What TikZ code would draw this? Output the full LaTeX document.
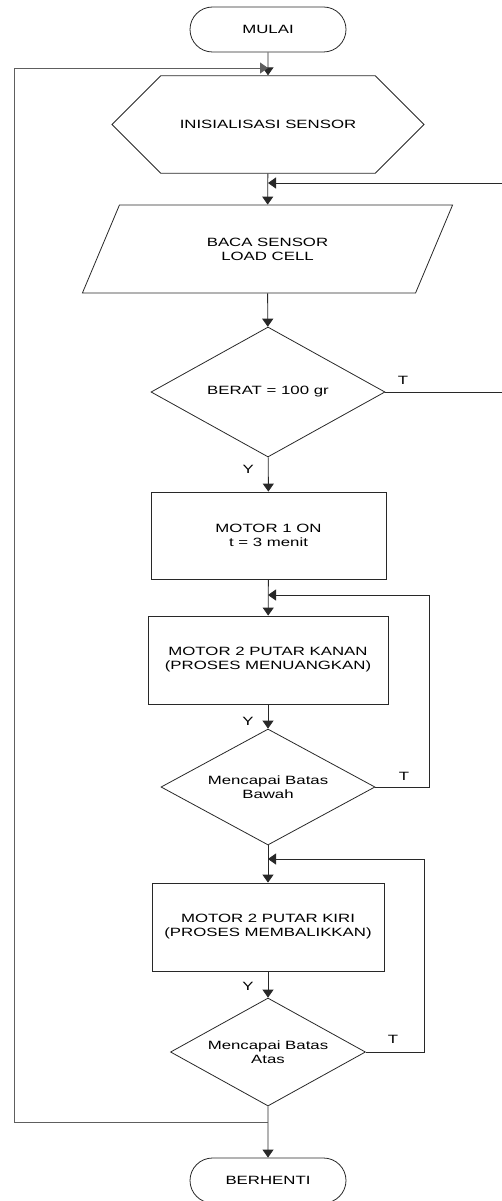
\documentclass[tikz,border=0pt]{standalone}
\usepackage{fontspec}
\setmainfont{Liberation Sans}[FakeStretch=1.4]
\usepackage{tikz}
\usetikzlibrary{shapes.geometric, shapes.misc, arrows.meta, positioning, calc}
\definecolor{flowline}{RGB}{40, 40, 40}

\begin{document}
\begin{tikzpicture}[x=1pt, y=-1pt,
  font=\fontsize{12}{14}\selectfont,
  base/.style={draw=flowline, line width=0.8pt, inner sep=0pt, align=center},
  terminal/.style={base, rounded rectangle, minimum width=156pt, minimum height=45pt},
  prep/.style={base, chamfered rectangle, chamfered rectangle xsep=30pt, chamfered rectangle ysep=44.5pt, minimum width=312pt, minimum height=89pt},
  io/.style={base, trapezium, trapezium left angle=56, trapezium right angle=124, trapezium stretches=true, minimum width=371pt, minimum height=88pt},
  process/.style={base, rectangle, minimum height=88pt},
  decision/.style={base, diamond, shape aspect=1.8},
  flow/.style={draw=flowline, line width=0.9pt, -{Triangle[length=8pt, width=11pt]}},
  lbl/.style={inner sep=0pt},
]
\useasboundingbox (0,0) rectangle (501,1201);

% Start and sensor setup
\node[terminal] (start) at (268,29.5) {MULAI};
\node[prep] (init) at (268,124.5) {INISIALISASI SENSOR};
\node[io] (read) at (267.5,249) {BACA SENSOR\\LOAD CELL};

% Weight check
\node[decision, minimum width=234pt, minimum height=130pt] (weight) at (268,392) {BERAT = 100 gr};
\node[process, minimum width=235pt, minimum height=87pt] (motor1) at (268.5,535.5) {MOTOR 1 ON\\t = 3 menit};

% Pouring
\node[process, minimum width=240pt] (pour) at (268,660) {MOTOR 2 PUTAR KANAN\\(PROSES MENUANGKAN)};
\node[decision, minimum width=214pt, minimum height=116pt] (lower) at (268,787) {Mencapai Batas\\Bawah};

% Returning
\node[process, minimum width=232pt] (back) at (268,927) {MOTOR 2 PUTAR KIRI\\(PROSES MEMBALIKKAN)};
\node[decision, minimum width=195pt, minimum height=108pt] (upper) at (268,1052) {Mencapai Batas\\Atas};
\node[terminal] (stop) at (268,1180.5) {BERHENTI};

% Junctions
\coordinate (jTop) at (268,68);
\coordinate (jRead) at (268,183);
\coordinate (jPour) at (268,595);
\coordinate (jBack) at (268,859);
\coordinate (jEnd) at (268,1122);

% Main line
\draw[flow] (start) -- (init);
\draw[flow] (init) -- (read);
\draw[flow] (read) -- (weight);
\draw[flow] (weight) -- (motor1) node[lbl, pos=0.34, left=14pt] {Y};
\draw[flow] (motor1) -- (pour);
\draw[flow] (pour) -- (lower) node[lbl, pos=0.7, left=14pt] {Y};
\draw[flow] (lower) -- (back);
\draw[flow] (back) -- (upper) node[lbl, pos=0.56, left=14pt] {Y};
\draw[flow] (upper) -- (stop);

% Loops back
\draw[flow] (weight.east) -- (504,392) -- (504,183) -- (jRead);
\node[lbl] (tWeight) at (403,380) {T};
\draw[flow] (lower.east) -- (429,787) -- (429,595) -- (jPour);
\node[lbl] (tLower) at (404,776) {T};
\draw[flow] (upper.east) -- (424,1052) -- (424,859) -- (jBack);
\node[lbl] (tUpper) at (393,1039) {T};
\draw[flow, draw=flowline!75] (jEnd) -- (14,1122) -- (14,68) -- (jTop);
\end{tikzpicture}
\end{document}
